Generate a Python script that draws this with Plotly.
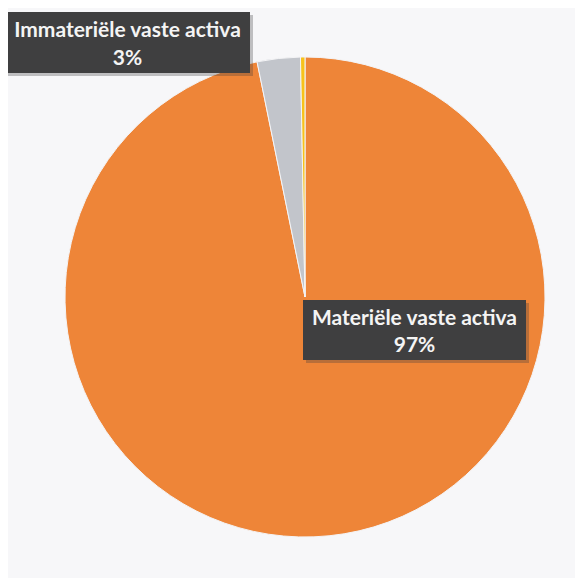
import plotly.graph_objects as go

categories = ["Materiële vaste activa", "Immateriële vaste activa", "Financiële vaste activa"]
values = [96.8, 2.9, 0.3]
slice_colors = ["#EE8538", "#C2C5CB", "#F7C21A"]
label_texts = ["Immateriële vaste activa<br>3%", "Materiële vaste activa<br>97%"]

OFF = 8  # page body margin
W, H = 583 - OFF, 578 - OFF
cx, cy, r = 305 - OFF, 297 - OFF, 240

fig = go.Figure(go.Pie(
    labels=categories,
    values=values,
    sort=False,
    direction="clockwise",
    rotation=0,
    marker=dict(colors=slice_colors, line=dict(color="#f4f4f6", width=1)),
    textinfo="none",
    hoverinfo="label+percent",
    showlegend=False,
    domain=dict(x=[(cx - r) / W, (cx + r) / W], y=[(H - cy - r) / H, (H - cy + r) / H]),
))

boxes = [
    (5, 12, 250, 73, label_texts[0]),
    (303, 300, 526, 360, label_texts[1]),
]
for (x0, y0, x1, y1, txt) in boxes:
    x0, x1, y0, y1 = x0 - OFF, x1 - OFF, y0 - OFF, y1 - OFF
    fig.add_shape(type="rect", xref="paper", yref="paper",
                  x0=(x0 + 3) / W, x1=(x1 + 3) / W, y0=1 - (y1 + 3) / H, y1=1 - (y0 + 3) / H,
                  fillcolor="rgba(60,60,60,0.3)", line=dict(width=0), layer="above")
    fig.add_annotation(
        x=(x0 + x1) / 2 / W, y=1 - (y0 + y1) / 2 / H, xref="paper", yref="paper",
        xanchor="center", yanchor="middle", showarrow=False,
        text="<b>" + txt + "</b>",
        font=dict(family="Lato", size=21, color="#f4f4f4"),
        bgcolor="#3f3f40", borderpad=0, borderwidth=0,
        width=x1 - x0, height=y1 - y0, align="center",
    )

fig.update_layout(
    width=W, height=H,
    margin=dict(l=0, r=0, t=0, b=0),
    paper_bgcolor="#f7f7f9",
    plot_bgcolor="#f7f7f9",
)

fig.write_html("out.html")
